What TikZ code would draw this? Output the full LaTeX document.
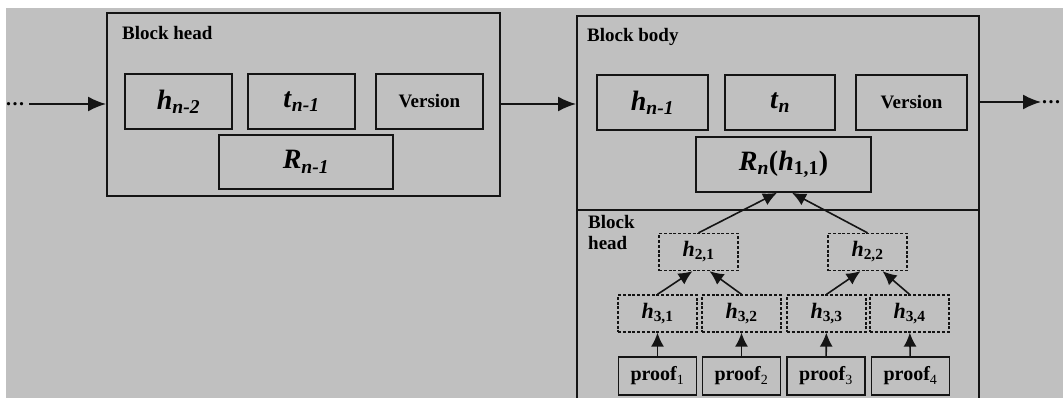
\documentclass[tikz,border=0pt]{standalone}
\usepackage{fontspec}
\setmainfont{Liberation Serif}
\usetikzlibrary{arrows.meta}
\definecolor{bggray}{HTML}{C0C0C0}
\definecolor{linec}{HTML}{141414}

\begin{document}
\begin{tikzpicture}[x=1pt,y=-1pt]
	\tikzset{%
		blk/.style={draw=linec,line width=2pt,inner sep=0pt},
		cell/.style={draw=linec,line width=1.6pt,inner sep=0pt,font=\fontsize{19}{22}\selectfont\bfseries},
		bigcell/.style={cell,font=\fontsize{28}{30}\selectfont\bfseries},
		hcell/.style={draw=linec,line width=1.3pt,dash pattern=on 3pt off 1.8pt,inner sep=0pt,
			minimum width=79pt,minimum height=37pt,font=\fontsize{22}{24}\selectfont\bfseries},
		pcell/.style={cell,minimum width=78pt,minimum height=38pt,font=\fontsize{20}{22}\selectfont\bfseries},
		lbl/.style={anchor=west,inner sep=0pt,font=\fontsize{19}{22}\selectfont\bfseries},
		dotlbl/.style={anchor=base west,inner sep=0pt,font=\fontsize{20}{22}\selectfont\bfseries},
		mainarr/.style={-{Latex[length=18pt,width=15pt]},draw=linec,line width=1.8pt},
		treearr/.style={-{Latex[length=14pt,width=13pt]},draw=linec,line width=1.6pt},
	}

	\newcommand*{\hsub}[2]{\textit{#1}\textsubscript{#2}}

	% background
	\useasboundingbox (0,0) rectangle (1063,398);
	\fill [bggray] (6,8) rectangle (1063,398);

	% previous block
	\node [blk,minimum width=393pt,minimum height=183pt] (headblk) at (303.5,104.5) {};
	\node [lbl] (headlbl) at (122,33) {Block head};
	\node [bigcell,minimum width=107pt,minimum height=55pt] (hprev) at (178.5,101.5) {\hsub{h}{\textit{n-2}}};
	\node [bigcell,minimum width=107pt,minimum height=55pt] (tprev) at (301.5,101.5) {\hsub{t}{\textit{n-1}}};
	\node [cell,minimum width=107pt,minimum height=55pt] (vprev) at (429.5,101.5) {Version};
	\node [bigcell,minimum width=174pt,minimum height=54pt] (rprev) at (306,162) {\hsub{R}{\textit{n-1}}};

	% current block
	\node [blk,minimum width=402pt,minimum height=392pt] (bodyblk) at (778,212) {};
	\node [lbl] (bodylbl) at (587,37) {Block body};
	\node [bigcell,minimum width=111pt,minimum height=55pt] (hcur) at (652.5,102.5) {\hsub{h}{\textit{n-1}}};
	\node [bigcell,minimum width=110pt,minimum height=55pt] (tcur) at (780,102.5) {\hsub{t}{\textit{n}}};
	\node [cell,minimum width=111pt,minimum height=55pt] (vcur) at (911.5,102.5) {Version};
	\node [bigcell,minimum width=175pt,minimum height=55pt] (rcur) at (783.5,164.5) {\hsub{R}{\textit{n}}(\hsub{h}{1,1})};

	\coordinate (divl) at (577,210);
	\coordinate (divr) at (979,210);
	\draw [linec,line width=2pt] (divl) -- (divr);
	\node [lbl,align=left,font=\fontsize{19}{21}\selectfont\bfseries] (treelbl) at (588,232.5) {Block\\head};

	% hash tree
	\node [hcell] (h21) at (698.5,252) {\hsub{h}{2,1}};
	\node [hcell] (h22) at (867.5,252) {\hsub{h}{2,2}};
	\node [hcell] (h31) at (657.5,313.5) {\hsub{h}{3,1}};
	\node [hcell] (h32) at (741.5,313.5) {\hsub{h}{3,2}};
	\node [hcell] (h33) at (826.5,313.5) {\hsub{h}{3,3}};
	\node [hcell] (h34) at (909.5,313.5) {\hsub{h}{3,4}};

	\node [pcell] (p1) at (657.5,376) {proof\textsubscript{\mdseries 1}};
	\node [pcell] (p2) at (741.5,376) {proof\textsubscript{\mdseries 2}};
	\node [pcell] (p3) at (826,376) {proof\textsubscript{\mdseries 3}};
	\node [pcell] (p4) at (910.5,376) {proof\textsubscript{\mdseries 4}};

	\draw [treearr] (p1) -- (h31);
	\draw [treearr] (p2) -- (h32);
	\draw [treearr] (p3) -- (h33);
	\draw [treearr] (p4) -- (h34);

	\draw [treearr] (h31.north) -- ([xshift=-6pt]h21.south);
	\draw [treearr] (h32.north) -- ([xshift=11pt]h21.south);
	\draw [treearr] (h33.north) -- ([xshift=-7pt]h22.south);
	\draw [treearr] (h34.north) -- ([xshift=15pt]h22.south);

	\draw [treearr] (h21.north) -- ([xshift=-6.5pt]rcur.south);
	\draw [treearr] (h22.north) -- ([xshift=8.5pt]rcur.south);

	% chain
	\node [dotlbl] (dotsl) at (6,106) {.\kern1.5pt.\kern1.5pt.};
	\node [dotlbl] (dotsr) at (1042,104) {.\kern1.5pt.\kern1.5pt.};
	\coordinate (startl) at (29,104);
	\draw [mainarr] (startl) -- (startl -| headblk.west);
	\draw [mainarr] (headblk.east |- 0,104) -- (bodyblk.west |- 0,104);
	\coordinate (endr) at (1041,102);
	\draw [mainarr] (bodyblk.east |- endr) -- (endr);
\end{tikzpicture}
\end{document}
